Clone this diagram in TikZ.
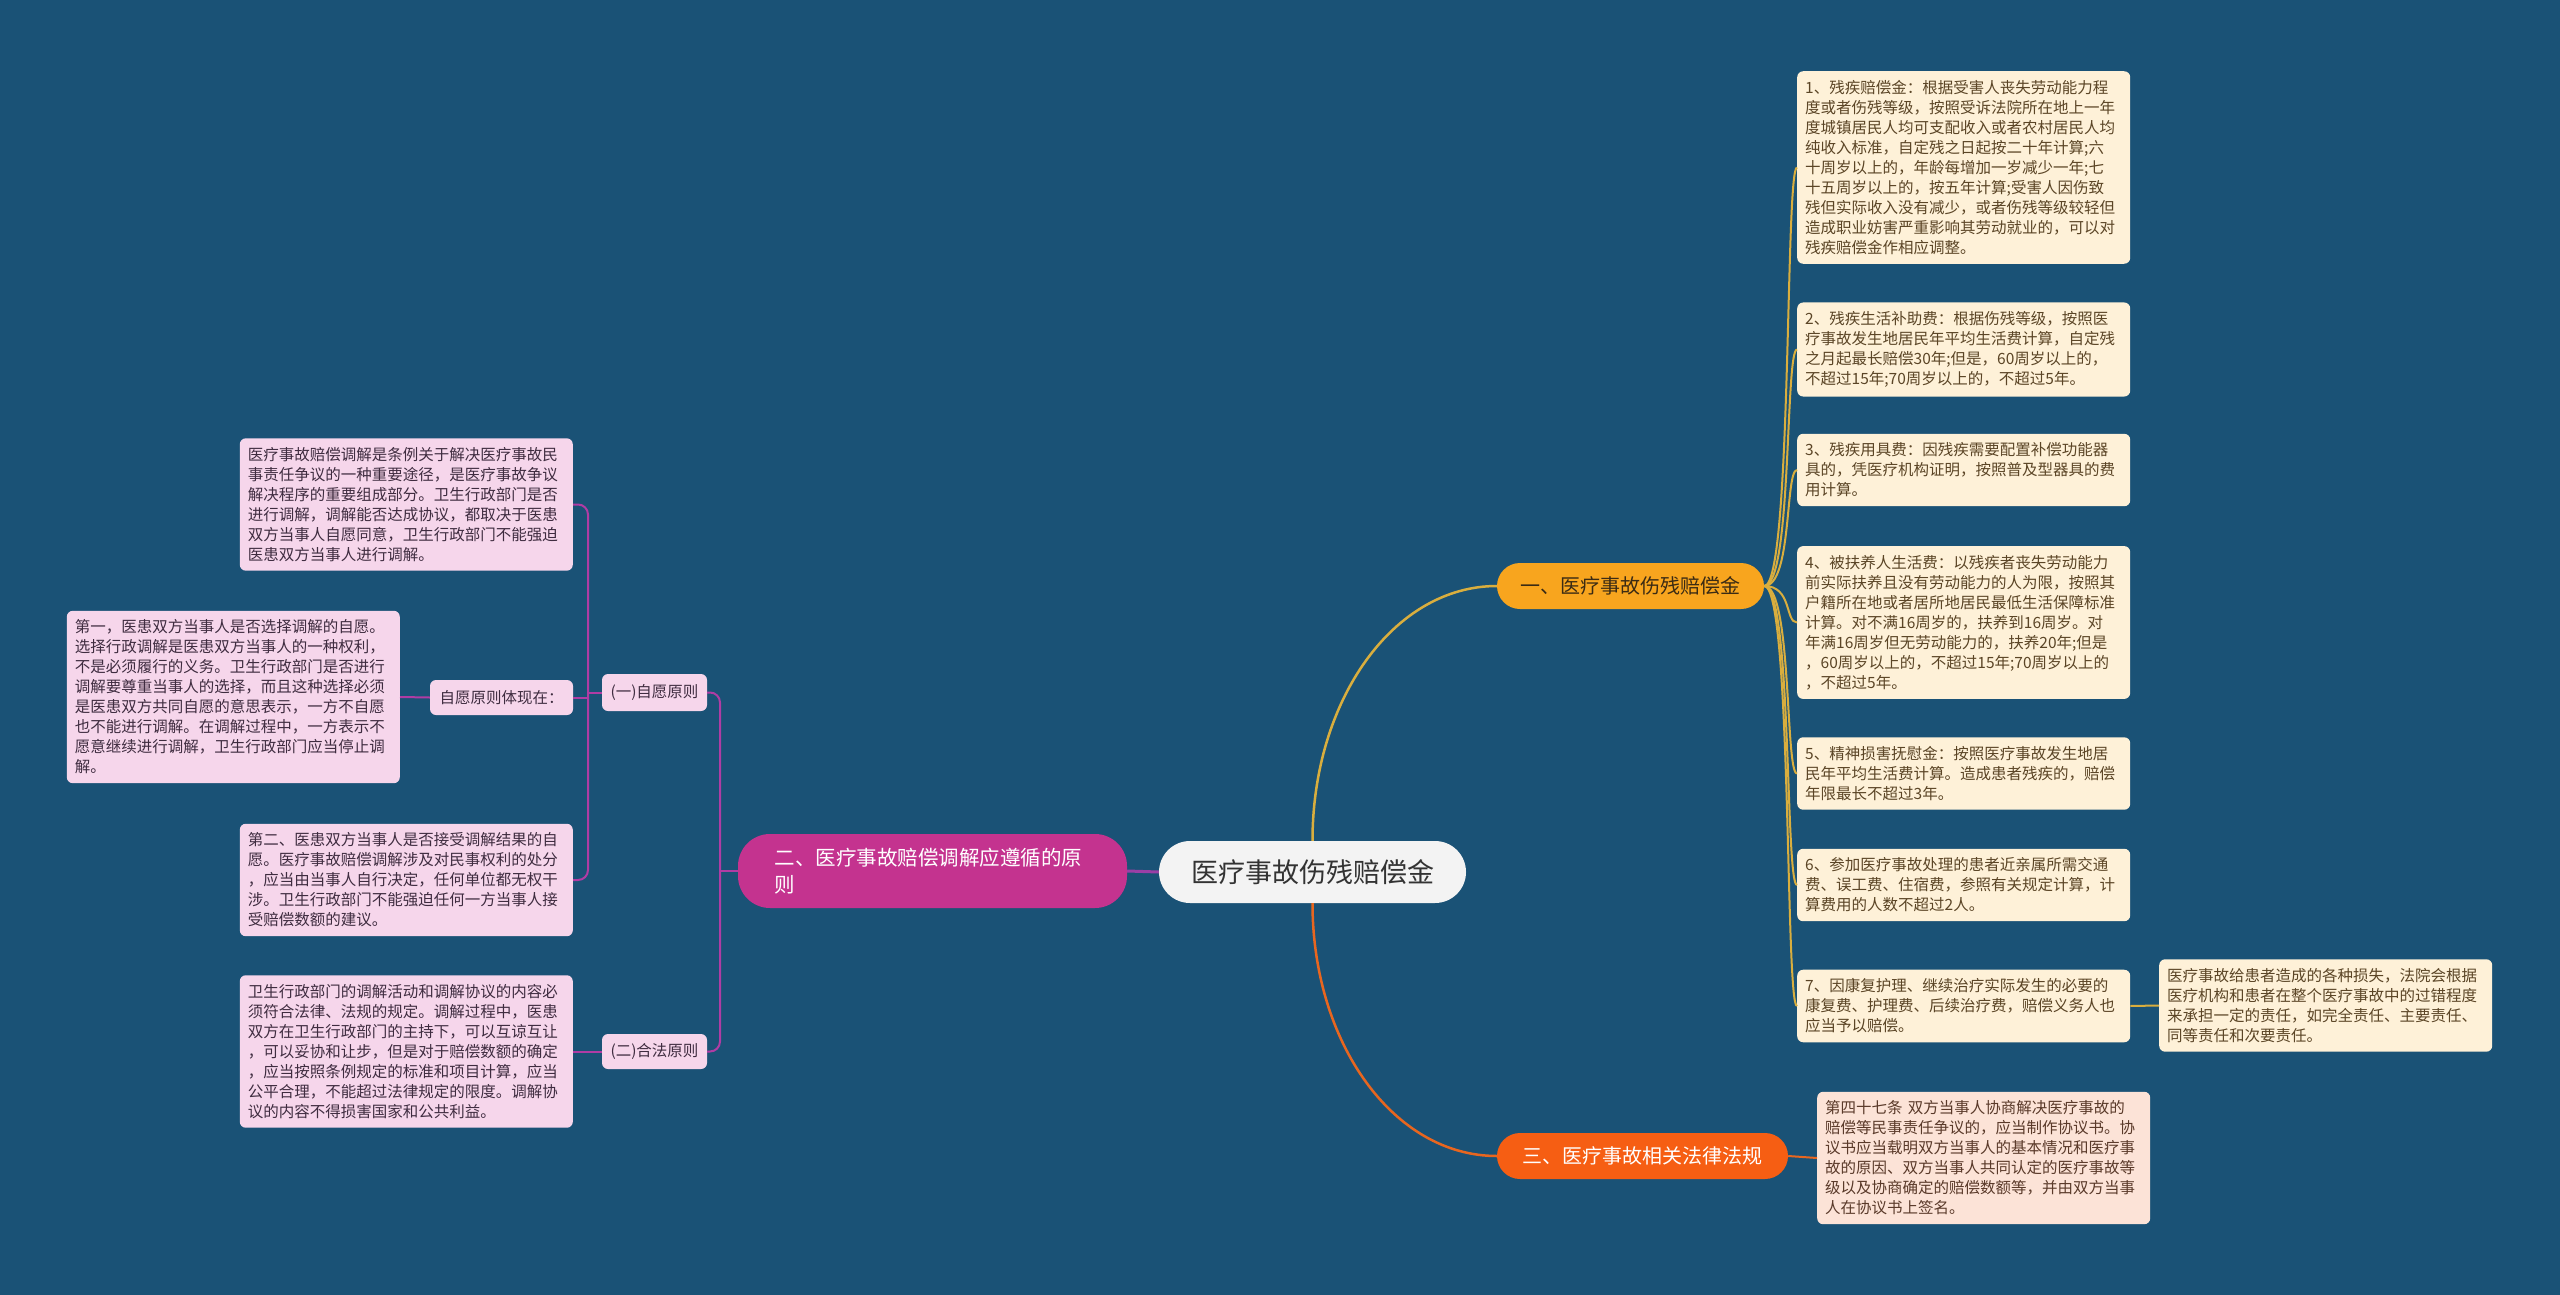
\documentclass[tikz,border=0pt]{standalone}
\usepackage{fontspec}
\setmainfont{Noto Sans CJK SC}
\definecolor{bg}{HTML}{1A5276}
\definecolor{rfill}{HTML}{FEF1D8}
\definecolor{rtext}{HTML}{5B4526}
\definecolor{lfill}{HTML}{F6D6EB}
\definecolor{ltext}{HTML}{3F2C40}
\definecolor{bfill}{HTML}{FCE3D7}
\definecolor{btext}{HTML}{5A3A2A}
\definecolor{cfill}{HTML}{F3F3F3}
\definecolor{ctext}{HTML}{333333}
\definecolor{oneFill}{HTML}{F8A51E}
\definecolor{oneText}{HTML}{3B2B14}
\definecolor{twoFill}{HTML}{C4338F}
\definecolor{threeFill}{HTML}{F65E13}
\definecolor{goldline}{HTML}{D9AE3E}
\definecolor{magline}{HTML}{B03CA4}
\definecolor{orline}{HTML}{E8661F}
\definecolor{purline}{HTML}{9B3FA6}
\tikzset{
  leafbase/.style={rounded corners=6pt, inner xsep=8pt, inner ysep=9pt, text width=317pt, align=left, font=\fontsize{15.5}{20}\selectfont},
  rbox/.style={leafbase, fill=rfill, text=rtext, anchor=west},
  lbox/.style={leafbase, fill=lfill, text=ltext, anchor=east},
  bbox/.style={leafbase, fill=bfill, text=btext, anchor=west},
  smallbox/.style={fill=lfill, text=ltext, rounded corners=6pt, inner sep=0pt, font=\fontsize{15.5}{20}\selectfont},
  rline/.style={draw=goldline, line width=2pt},
  lline/.style={draw=magline, line width=2pt},
}
\begin{document}
\begin{tikzpicture}[x=1pt,y=-1pt]
\useasboundingbox (0,0) rectangle (2560,1295);
\fill[bg] (0,0) rectangle (2560,1295);

% center and main branches
\node[fill=cfill, text=ctext, rounded corners=31pt, minimum width=307pt, minimum height=62pt, inner sep=0pt, font=\fontsize{27}{32}\selectfont] (C) at (1312.5,872) {医疗事故伤残赔偿金};
\node[fill=oneFill, text=oneText, rounded corners=23pt, minimum width=267pt, minimum height=46pt, inner sep=0pt, font=\fontsize{20}{24}\selectfont] (B1) at (1630.5,586) {一、医疗事故伤残赔偿金};
\node[fill=twoFill, text=white, rounded corners=32pt, minimum height=74pt, inner xsep=36.5pt, inner ysep=6pt, text width=316pt, align=left, font=\fontsize{20.5}{27}\selectfont] (B2) at (932.5,871) {二、医疗事故赔偿调解应遵循的原\\则};
\node[fill=threeFill, text=white, rounded corners=23pt, minimum width=291pt, minimum height=46pt, inner sep=0pt, font=\fontsize{20}{24}\selectfont] (B3) at (1642.5,1156) {三、医疗事故相关法律法规};

% right leaves
\node[rbox] (R1) at (1797,167.5) {1、残疾赔偿金：根据受害人丧失劳动能力程\\度或者伤残等级，按照受诉法院所在地上一年\\度城镇居民人均可支配收入或者农村居民人均\\纯收入标准，自定残之日起按二十年计算;六\\十周岁以上的，年龄每增加一岁减少一年;七\\十五周岁以上的，按五年计算;受害人因伤致\\残但实际收入没有减少，或者伤残等级较轻但\\造成职业妨害严重影响其劳动就业的，可以对\\残疾赔偿金作相应调整。};
\node[rbox] (R2) at (1797,349.5) {2、残疾生活补助费：根据伤残等级，按照医\\疗事故发生地居民年平均生活费计算，自定残\\之月起最长赔偿30年;但是，60周岁以上的，\\不超过15年;70周岁以上的，不超过5年。};
\node[rbox] (R3) at (1797,470) {3、残疾用具费：因残疾需要配置补偿功能器\\具的，凭医疗机构证明，按照普及型器具的费\\用计算。};
\node[rbox] (R4) at (1797,622.5) {4、被扶养人生活费：以残疾者丧失劳动能力\\前实际扶养且没有劳动能力的人为限，按照其\\户籍所在地或者居所地居民最低生活保障标准\\计算。对不满16周岁的，扶养到16周岁。对\\年满16周岁但无劳动能力的，扶养20年;但是\\，60周岁以上的，不超过15年;70周岁以上的\\，不超过5年。};
\node[rbox] (R5) at (1797,773.5) {5、精神损害抚慰金：按照医疗事故发生地居\\民年平均生活费计算。造成患者残疾的，赔偿\\年限最长不超过3年。};
\node[rbox] (R6) at (1797,885) {6、参加医疗事故处理的患者近亲属所需交通\\费、误工费、住宿费，参照有关规定计算，计\\算费用的人数不超过2人。};
\node[rbox] (R7) at (1797,1006) {7、因康复护理、继续治疗实际发生的必要的\\康复费、护理费、后续治疗费，赔偿义务人也\\应当予以赔偿。};
\node[rbox] (S) at (2159,1005.5) {医疗事故给患者造成的各种损失，法院会根据\\医疗机构和患者在整个医疗事故中的过错程度\\来承担一定的责任，如完全责任、主要责任、\\同等责任和次要责任。};
\node[bbox] (BB) at (1817,1158) {第四十七条 双方当事人协商解决医疗事故的\\赔偿等民事责任争议的，应当制作协议书。协\\议书应当载明双方当事人的基本情况和医疗事\\故的原因、双方当事人共同认定的医疗事故等\\级以及协商确定的赔偿数额等，并由双方当事\\人在协议书上签名。};

% left side
\node[smallbox, minimum width=105pt, minimum height=37pt] (Y1) at (654.5,692.5) {(一)自愿原则};
\node[smallbox, minimum width=105pt, minimum height=35pt] (Y2) at (654.5,1051.5) {(二)合法原则};
\node[smallbox, minimum width=143pt, minimum height=35pt] (Z) at (501.5,697.5) {自愿原则体现在：};
\node[lbox] (L1) at (573,504.5) {医疗事故赔偿调解是条例关于解决医疗事故民\\事责任争议的一种重要途径，是医疗事故争议\\解决程序的重要组成部分。卫生行政部门是否\\进行调解，调解能否达成协议，都取决于医患\\双方当事人自愿同意，卫生行政部门不能强迫\\医患双方当事人进行调解。};
\node[lbox] (L2) at (400,697) {第一，医患双方当事人是否选择调解的自愿。\\选择行政调解是医患双方当事人的一种权利，\\不是必须履行的义务。卫生行政部门是否进行\\调解要尊重当事人的选择，而且这种选择必须\\是医患双方共同自愿的意思表示，一方不自愿\\也不能进行调解。在调解过程中，一方表示不\\愿意继续进行调解，卫生行政部门应当停止调\\解。};
\node[lbox] (L3) at (573,880) {第二、医患双方当事人是否接受调解结果的自\\愿。医疗事故赔偿调解涉及对民事权利的处分\\，应当由当事人自行决定，任何单位都无权干\\涉。卫生行政部门不能强迫任何一方当事人接\\受赔偿数额的建议。};
\node[lbox] (L4) at (573,1051.5) {卫生行政部门的调解活动和调解协议的内容必\\须符合法律、法规的规定。调解过程中，医患\\双方在卫生行政部门的主持下，可以互谅互让\\，可以妥协和让步，但是对于赔偿数额的确定\\，应当按照条例规定的标准和项目计算，应当\\公平合理，不能超过法律规定的限度。调解协\\议的内容不得损害国家和公共利益。};

\coordinate (J1) at (588,697.5);
\coordinate (J2) at (720,871);

% connectors: center
\draw[draw=goldline, line width=2.5pt] (C.north) .. controls +(0,-141) and +(-103,0) .. (B1.west);
\draw[draw=orline, line width=2.5pt] (C.south) .. controls +(0,140) and +(-103,0) .. (B3.west);
\draw[draw=purline, line width=3pt] (C.west) -- (B2.east);

% right connectors
\foreach \n in {R1,R2,R3,R4,R5,R6,R7}
  \draw[rline] (B1.east) .. controls +(28,0) and +(-12,0) .. (\n.west);
\draw[rline] (R7.east) -- (S.west);
\draw[draw=orline, line width=2pt] (B3.east) -- (BB.west);

% left connectors
\draw[lline] (B2.west) -- (J2);
\draw[lline, rounded corners=10pt] (Y1.east) -| (J2) |- (Y2.east);
\draw[lline, rounded corners=10pt] (L1.east) -| (J1) |- (L3.east);
\draw[lline] (Y1.west) -- (Y1.west -| J1);
\draw[lline] (Z.east) -- (J1);
\draw[lline] (Z.west) -- (L2.east);
\draw[lline] (Y2.west) -- (L4.east);
\end{tikzpicture}
\end{document}
